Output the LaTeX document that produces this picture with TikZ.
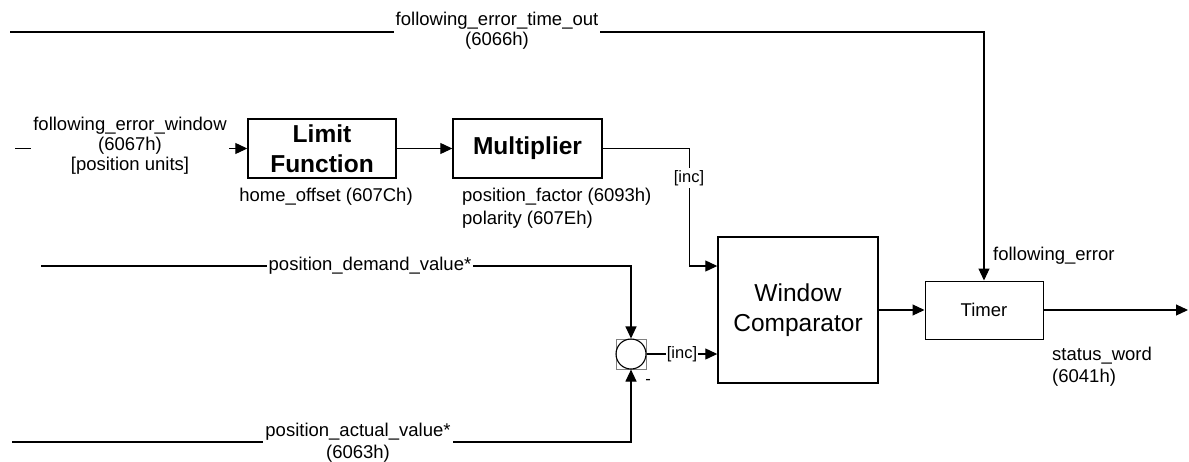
\documentclass[tikz,border=0pt]{standalone}
\usepackage{fontspec}
\setmainfont{Liberation Sans}
\usetikzlibrary{arrows.meta}
\begin{document}
\begin{tikzpicture}[x=1pt,y=-1pt,
  line/.style={line width=1.1pt},
  arr/.style={line width=1.1pt,-{Triangle[length=12pt,width=11pt]}},
  block/.style={draw,line width=1.4pt,inner sep=0pt,align=center},
  lbl/.style={font=\fontsize{18.5}{20}\selectfont,inner sep=2pt,align=center},
  onl/.style={lbl,fill=white},
  small/.style={font=\fontsize{16.5}{18}\selectfont}
]
\useasboundingbox (0,0) rectangle (1189,461);

% blocks
\node[block,minimum width=148pt,minimum height=59pt,font=\bfseries\fontsize{24.5}{30}\selectfont] (lim) at (322,148.5) {Limit\\Function};
\node[block,minimum width=149pt,minimum height=59pt,font=\bfseries\fontsize{24.5}{30}\selectfont] (mul) at (527.5,148.5) {Multiplier};
\node[block,minimum width=160pt,minimum height=146pt,font=\fontsize{24.5}{30}\selectfont] (cmp) at (798,310) {Window\\Comparator};
\node[block,line width=1pt,minimum width=118pt,minimum height=58pt,font=\fontsize{18.5}{20}\selectfont] (tim) at (984,310) {Timer};
\node[draw=gray,line width=0.6pt,minimum size=30pt,inner sep=0pt] (sumsq) at (631,354) {};
\node[circle,draw,line width=1.1pt,minimum size=30pt,inner sep=0pt] (sum) at (631,354) {};

% free ends
\coordinate (tl) at (10,32);
\coordinate (tc) at (984,32);
\coordinate (w0) at (15,148.5);
\coordinate (d0) at (41,266);
\coordinate (a0) at (12,442);
\coordinate (out) at (1188,310);

% connectors
\draw[arr] (tl) -- (tc) -- (tim.north);
\draw[arr] (w0) -- (lim.west);
\draw[arr] (lim) -- (mul);
\draw[arr] (mul.east) -- ++(87,0) |- ([yshift=44pt]cmp.west);
\draw[arr] (d0) -| (sum.north);
\draw[arr] (a0) -| (sum.south);
\draw[arr] (sum.east) -- ([yshift=-44pt]cmp.west);
\draw[arr] (cmp) -- (tim);
\draw[arr] (tim.east) -- (out);

% labels
\node[onl] (tmo) at (497,31) {following\_error\_time\_out\\(6066h)};
\node[onl] (few) at (130,146) {following\_error\_window\\(6067h)\\{[position units]}};
\node[lbl] (ho) at (326,197) {home\_offset (607Ch)};
\node[lbl,anchor=west,align=left,font=\fontsize{18.5}{23}\selectfont] (pf) at (460,208.5) {position\_factor (6093h)\\polarity (607Eh)};
\node[onl,small] (inc1) at (689,178) {{[inc]}};
\node[onl,small,inner sep=1pt] (inc2) at (682,354) {{[inc]}};
\node[onl] (pdv) at (370,266) {position\_demand\_value*};
\node[onl,font=\fontsize{18.5}{22}\selectfont] (pav) at (358,443) {position\_actual\_value*\\(6063h)};
\node[lbl,small] (minus) at (648,382) {-};
\node[lbl,anchor=west] (fe) at (991,256) {following\_error};
\node[lbl,anchor=west,align=left,font=\fontsize{18.5}{22}\selectfont] (sw) at (1050,367) {status\_word\\(6041h)};
\end{tikzpicture}
\end{document}
